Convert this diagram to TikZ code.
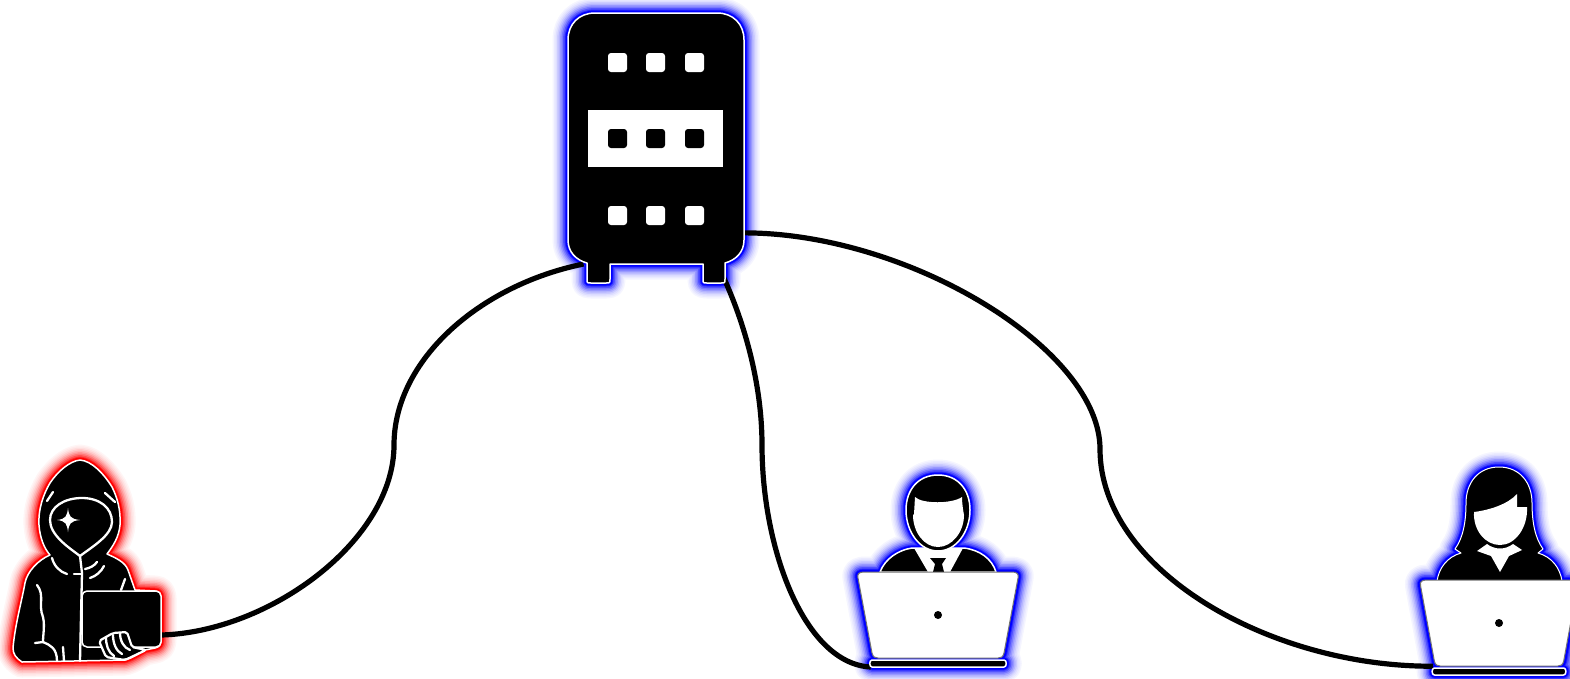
\documentclass[tikz,border=0pt]{standalone}
\usepackage{tikz}

% outlines that carry a glow
\newcommand{\serverpath}{(595,13) -- (717,13) .. controls (733,13) and (744,24) .. (744,40) -- (744,240) .. controls (744,252) and (736,260) .. (725,263) -- (725,279) .. controls (725,283) .. (721,283) -- (707,283) .. controls (703,283) .. (703,279) -- (703,264) -- (610,264) -- (610,279) .. controls (610,283) .. (606,283) -- (591,283) .. controls (587,283) .. (587,279) -- (587,263) .. controls (576,260) and (568,252) .. (568,240) -- (568,40) .. controls (568,24) and (579,13) .. (595,13) -- cycle}
\newcommand{\attackerpath}{(80,460) .. controls (92,461) and (104,474) .. (112,487) .. controls (117,497) and (121,510) .. (120,525) .. controls (119,537) and (113,546) .. (107,554) .. controls (116,558) and (125,562) .. (128,570) -- (135,590) -- (155,591) .. controls (159,591) and (161,594) .. (161,598) -- (161,640) .. controls (161,645) and (159,647) .. (155,648) -- (145,650) .. controls (138,654) and (132,658) .. (125,660) -- (22,662) .. controls (16,658) and (13,654) .. (13,648) .. controls (15,625) and (22,600) .. (25,583) .. controls (27,572) and (38,560) .. (50,555) .. controls (44,548) and (40,538) .. (39,525) .. controls (38,510) and (43,495) .. (50,483) .. controls (58,471) and (70,461) .. (80,460) -- cycle}
\newcommand{\manheadpath}{(938,475) .. controls (958,475) and (970,490) .. (970,510) .. controls (970,532) and (956,551) .. (938,551) .. controls (920,551) and (906,532) .. (906,510) .. controls (906,490) and (918,475) .. (938,475) -- cycle}
\newcommand{\manbodypath}{(880,572) .. controls (885,559) and (898,550) .. (912,548) -- (964,548) .. controls (980,550) and (992,559) .. (996,572) -- cycle}
\newcommand{\womanpath}{(1499,467) .. controls (1520,467) and (1532,483) .. (1532,503) .. controls (1532,522) and (1535,538) .. (1543,549) -- (1538,553) .. controls (1552,557) and (1560,568) .. (1562,581) -- (1437,581) .. controls (1439,568) and (1447,557) .. (1461,553) -- (1455,549) .. controls (1463,538) and (1466,522) .. (1466,503) .. controls (1466,483) and (1478,467) .. (1499,467) -- cycle}
\newcommand{\screenpath}{(-74,-43) -- (74,-43) .. controls (79,-43) and (81,-41) .. (80,-37) -- (66,38) .. controls (65,42) and (63,43) .. (60,43) -- (-60,43) .. controls (-63,43) and (-65,42) .. (-66,38) -- (-80,-37) .. controls (-81,-41) and (-79,-43) .. (-74,-43) -- cycle}
\newcommand{\basepath}{(-66,45) -- (66,45) .. controls (69,45) and (69,52) .. (66,52) -- (-66,52) .. controls (-69,52) and (-69,45) .. (-66,45) -- cycle}

\begin{document}
\begin{tikzpicture}[
  x=1pt, y=-1pt,
  place/.style={inner sep=0pt, outer sep=0pt, minimum width=#1},
  wire/.style={line width=5.2pt, black},
  glowblue/.style={blue!\glowtint, fill=blue!\glowtint, line width=\glowwidth pt, line join=round},
  glowred/.style={red!\glowtint, fill=red!\glowtint, line width=\glowwidth pt, line join=round},
  icon/.style={fill=black, draw=white, line width=1.5pt, line join=round},
  inkline/.style={draw=white, line width=2.3pt, line cap=round, line join=round},
  lampwhite/.style={fill=white, rounded corners=3pt},
  lampblack/.style={fill=black, rounded corners=3pt},
  screen/.style={fill=white, draw=black!55, line width=1pt, line join=round}
]
\useasboundingbox (0,0) rectangle (1570,678);

\node[place=176pt, minimum height=251pt](server) at (656,138.5) {};
\node[place=148pt, minimum height=202pt](attacker) at (87,561) {};
\node[place=136pt, minimum height=192pt](manuser) at (938,571) {};
\node[place=134pt, minimum height=207pt](womanuser) at (1500,570.5) {};
\coordinate (bendleft) at (394,445);
\coordinate (bendmid) at (762,445);
\coordinate (bendright) at (1100,449);

% glows, widest and palest first
\foreach \glowwidth/\glowtint in {31/4,28/8,25/13,22/20,19/29,16/40,13/53,10/68,7/84,5/100}{
  \draw[glowblue] \serverpath;
  \draw[glowred] \attackerpath;
  \draw[glowblue] \manheadpath;
  \draw[glowblue] \manbodypath;
  \draw[glowblue,shift={(938,615)}] \screenpath;
  \draw[glowblue,shift={(938,615)}] \basepath;
  \draw[glowblue] \womanpath;
  \draw[glowblue,shift={(1499,623)},xscale=.98] \screenpath;
  \draw[glowblue,shift={(1499,623)},xscale=.98] \basepath;
}

% wires
\draw[wire] (server.240.2) .. controls (480,285) and (394,360) .. (bendleft) .. controls (394,540) and (270,632) .. (attacker.-45.5);
\draw[wire] (server.-64.5) .. controls (745,320) and (762,385) .. (bendmid) .. controls (762,550) and (805,664) .. (manuser.235);
\draw[wire] (server.-47) .. controls (910,233) and (1100,350) .. (bendright) .. controls (1100,570) and (1270,667) .. (womanuser.235.4);

% server
\draw[icon] \serverpath;
\fill[white] (588,110) rectangle (723,167);
\foreach \lampx in {608,646,685}{
  \fill[lampwhite] (\lampx,53) rectangle ++(19,19);
  \fill[lampblack] (\lampx,129) rectangle ++(19,19);
  \fill[lampwhite] (\lampx,206) rectangle ++(19,19);
}

% attacker
\draw[icon] \attackerpath;
\draw[inkline] (82,498) .. controls (100,498) and (112,508) .. (112,522) .. controls (112,535) and (92,547) .. (80,556) .. controls (68,547) and (50,535) .. (50,520) .. controls (50,507) and (64,498) .. (82,498) -- cycle;
\fill[white] (68,508) .. controls (69,516) and (70,519) .. (80,520) .. controls (70,521) and (69,524) .. (68,532) .. controls (67,524) and (66,521) .. (57,520) .. controls (66,519) and (67,516) .. (68,508) -- cycle;
\draw[inkline] (53,492) -- (47,501);
\draw[inkline] (105,493) -- (115,502);
\draw[inkline] (80,556) -- (82,573) -- (80,661);
\draw[inkline] (52,558) .. controls (54,566) and (60,572) .. (67,574);
\draw[inkline] (74,574) -- (82,574);
\draw[inkline] (90,578) .. controls (96,576) and (101,572) .. (104,566);
\draw[inkline] (85,569) .. controls (90,568) and (94,566) .. (97,562);
\draw[inkline] (125,579) -- (121,590);
\draw[inkline] (37,585) .. controls (45,595) and (38,605) .. (43,617) .. controls (45,625) and (43,635) .. (43,642) -- (35,643);
\draw[inkline] (43,642) .. controls (50,645) and (57,648) .. (57,661);
\draw[inkline] (63,647) -- (64,661);
\draw[icon, rounded corners=5pt] (82,591) rectangle (161,647);
\draw[icon, line width=2.2pt, rounded corners=2pt] (99,641) -- (113,633) -- (127,632) -- (132,647) -- (146,650) -- (125,660) -- (106,657) -- cycle;
\draw[inkline] (106,637) .. controls (106,645) and (108,652) .. (114,656);
\draw[inkline] (113,635) .. controls (113,643) and (116,651) .. (122,654);
\draw[inkline] (120,633) .. controls (120,641) and (124,648) .. (130,650);

% first user
\draw[icon] \manbodypath;
\fill[white] (914,548) -- (963,548) -- (950,572) -- (928,572) -- cycle;
\fill[black] (930,558) -- (946,558) -- (942,564) -- (944,572) -- (933,572) -- (935,564) -- cycle;
\draw[icon] \manheadpath;
\fill[white] (915,497) .. controls (922,504) and (952,504) .. (962,497) .. controls (962,503) and (963,510) .. (964,515) .. controls (964,532) and (952,547) .. (938,547) .. controls (924,547) and (913,532) .. (913,515) -- (914,514) -- cycle;
\draw[screen,shift={(938,615)}] \screenpath;
\draw[icon,shift={(938,615)}] \basepath;
\fill[black] (938,615) circle (4);

% second user
\draw[icon, line width=1pt] \womanpath;
\fill[white] (1477,551) -- (1487,544) .. controls (1495,550) and (1505,550) .. (1513,544) -- (1522,550) -- (1509,556) -- (1500,572) -- (1491,556) -- cycle;
\fill[white] (1474,512) .. controls (1490,510) and (1508,504) .. (1517,494) -- (1517,507) -- (1527,507) .. controls (1528,528) and (1515,545) .. (1500,545) .. controls (1485,545) and (1473,530) .. (1474,512) -- cycle;
\draw[screen,shift={(1499,623)},xscale=.98] \screenpath;
\draw[icon,shift={(1499,623)},xscale=.98] \basepath;
\fill[black] (1499,623) circle (4);
\end{tikzpicture}
\end{document}
